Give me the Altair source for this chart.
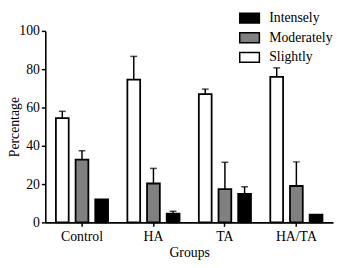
import altair as alt
import pandas as pd

groups = ["Control", "HA", "TA", "HA/TA"]
levels = ["Slightly", "Moderately", "Intensely"]
legend_order = ["Intensely", "Moderately", "Slightly"]
colors = ["#000000", "#808080", "#ffffff"]

slightly = [54.5, 74.5, 67.0, 76.0]
slightly_up = [58.0, 86.7, 69.6, 80.7]
moderately = [32.8, 20.3, 17.4, 19.0]
moderately_up = [37.4, 28.2, 31.4, 31.6]
intensely = [12.0, 4.6, 14.9, 4.1]
intensely_up = [None, 5.8, 18.6, None]

y_ticks = [0, 20, 40, 60, 80, 100]

rows = []
for lvl, vals, ups in [("Slightly", slightly, slightly_up),
                       ("Moderately", moderately, moderately_up),
                       ("Intensely", intensely, intensely_up)]:
    for g, v, u in zip(groups, vals, ups):
        rows.append({"group": g, "level": lvl, "value": v, "upper": u})
df = pd.DataFrame(rows)

FONT = "Liberation Serif"

x_axis = alt.Axis(labelAngle=0, tickSize=4, labelPadding=3, titlePadding=3)
y_axis = alt.Axis(values=y_ticks, tickSize=4, labelPadding=2,
                  labelOverlap=False, labelFlush=False, titleX=-24)
y_scale = alt.Scale(domain=[0, 100], nice=False)

x_enc = alt.X("group:N", sort=groups, title="Groups",
              scale=alt.Scale(paddingInner=0.174, paddingOuter=0.1),
              axis=x_axis)
xo_enc = alt.XOffset("level:N", sort=levels,
                     scale=alt.Scale(paddingInner=0.35, paddingOuter=0.175))

bars = alt.Chart(df).mark_bar(stroke="black", strokeWidth=1.8).encode(
    x=x_enc,
    xOffset=xo_enc,
    y=alt.Y("value:Q", title="Percentage", scale=y_scale, axis=y_axis),
    color=alt.Color("level:N",
                    scale=alt.Scale(domain=legend_order, range=colors),
                    legend=alt.Legend(
                        title=None, orient="none", legendX=197, legendY=-24,
                        symbolType="M-1,-0.5H1V0.5H-1Z", symbolSize=400,
                        symbolStrokeColor="black", symbolStrokeWidth=1.5,
                        labelFont=FONT, labelFontSize=14, labelColor="black",
                        labelOffset=9, rowPadding=1, padding=0)),
)

err = alt.Chart(df).transform_filter("isValid(datum.upper)")

rule = err.mark_rule(color="black", strokeWidth=1.5).encode(
    x=x_enc, xOffset=xo_enc,
    y=alt.Y("value:Q", title="Percentage", scale=y_scale, axis=y_axis),
    y2="upper:Q")
cap = err.mark_tick(color="black", orient="horizontal", size=7,
                    thickness=1.5).encode(
    x=x_enc, xOffset=xo_enc,
    y=alt.Y("upper:Q", title="Percentage", scale=y_scale, axis=y_axis))

chart = alt.layer(bars, rule, cap).properties(
    width=293, height=195,
    autosize=alt.AutoSizeParams(type="none"),
    padding={"left": 38, "top": 21, "right": 2, "bottom": 36},
    background="white",
).configure_view(stroke=None).configure_axis(
    grid=False, domainColor="black", domainWidth=1.6, tickColor="black",
    tickWidth=1.5, labelFont=FONT, labelFontSize=14, labelColor="black",
    titleFont=FONT, titleFontSize=14, titleColor="black",
    titleFontWeight="normal",
).configure_legend(
    labelFont=FONT, labelFontSize=14, labelColor="black",
)

chart.save("out.html", embed_options={"renderer": "svg", "actions": False})
